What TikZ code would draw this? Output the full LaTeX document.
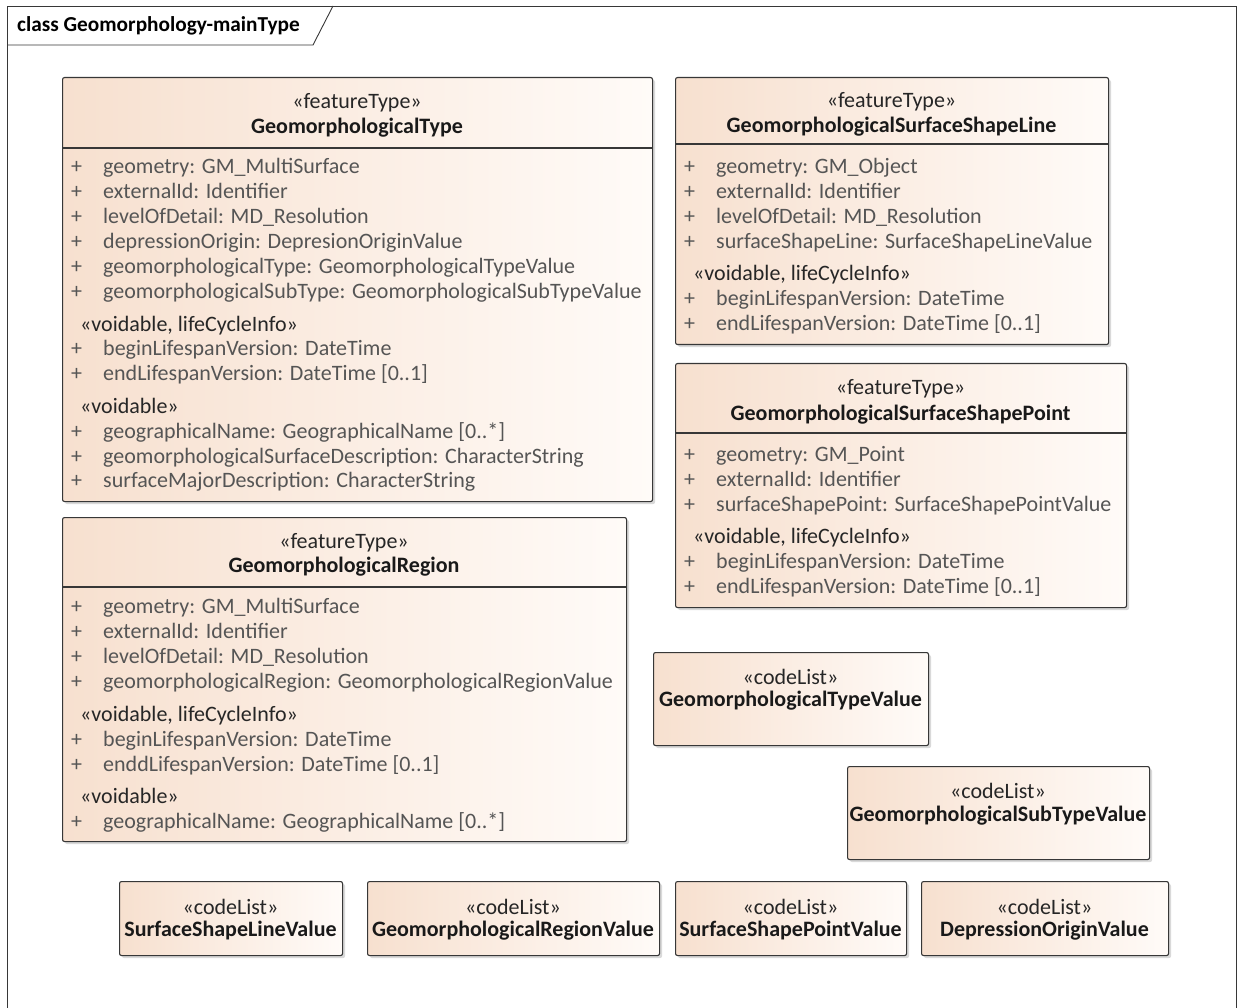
\documentclass[tikz,border=0pt]{standalone}
\usepackage{fontspec}
\setmainfont{Carlito}
\usetikzlibrary{shadows}
\definecolor{peach}{RGB}{247,224,207}
\definecolor{peachlight}{RGB}{255,251,248}
\definecolor{boxline}{RGB}{55,55,55}
\definecolor{attrtext}{RGB}{85,85,85}

\newcommand{\umlsize}{\fontsize{22}{25}\selectfont}

\tikzset{
  classbox/.style={draw=boxline, line width=1.1pt, rounded corners=2pt,
    left color=peach, right color=peachlight, anchor=north west, inner sep=0pt,
    drop shadow={shadow xshift=2.5pt, shadow yshift=-2.5pt, fill=black!25, opacity=.6}},
  divider/.style={draw=boxline, line width=1.1pt},
  stereo/.style={inner sep=0pt, text=black!85, yshift=-1pt},
  cname/.style={inner sep=0pt, font=\umlsize\bfseries, text=black!90, yshift=-1pt},
  section/.style={inner sep=0pt, anchor=mid west, text=black!85, yshift=-3.5pt},
  plussign/.style={inner sep=0pt, anchor=mid west, text=attrtext, yshift=-3.5pt},
  attr/.style={inner sep=0pt, anchor=mid west, text=attrtext, yshift=-3.5pt},
}

% one attribute row: name, x of the plus, y, text
\newcommand{\umlattr}[4]{%
  \node[plussign] (#1p) at (#2,#3) {+};
  \node[attr] (#1) at ({#2+32},#3) {#4};}

\begin{document}
\begin{tikzpicture}[x=1pt, y=-1pt, font=\umlsize]
    \useasboundingbox (0,0) rectangle (1240,1008);

    % frame
    \draw[boxline, line width=0.9pt] (7,1012) -- (7,6) -- (1236,6) -- (1236,1012);
    \draw[boxline, line width=0.9pt] (7,45) -- (313,45) -- (333,6);
    \node[anchor=mid west, inner sep=0pt, font=\fontsize{21.3}{24}\selectfont\bfseries] (title) at (17,29) {class Geomorphology-mainType};

    % GeomorphologicalType
    \node[classbox, minimum width=590pt, minimum height=424pt] (gtype) at (62,77) {};
    \draw[divider] (62,148) -- (652,148);
    \node[stereo] (gtype-st) at (357,102) {«featureType»};
    \node[cname] (gtype-nm) at (357,127) {GeomorphologicalType};
    \umlattr{gtype-a1}{71}{168}{geometry: GM\_MultiSurface}
    \umlattr{gtype-a2}{71}{193}{externalId: Identifier}
    \umlattr{gtype-a3}{71}{218}{levelOfDetail: MD\_Resolution}
    \umlattr{gtype-a4}{71}{243}{depressionOrigin: DepresionOriginValue}
    \umlattr{gtype-a5}{71}{268}{geomorphologicalType: GeomorphologicalTypeValue}
    \umlattr{gtype-a6}{71}{293}{geomorphologicalSubType: GeomorphologicalSubTypeValue}
    \node[section] (gtype-s1) at (80,326) {«voidable, lifeCycleInfo»};
    \umlattr{gtype-a7}{71}{350}{beginLifespanVersion: DateTime}
    \umlattr{gtype-a8}{71}{375}{endLifespanVersion: DateTime [0..1]}
    \node[section] (gtype-s2) at (80,408) {«voidable»};
    \umlattr{gtype-a9}{71}{433}{geographicalName: GeographicalName [0..*]}
    \umlattr{gtype-a10}{71}{458}{geomorphologicalSurfaceDescription: CharacterString}
    \umlattr{gtype-a11}{71}{482}{surfaceMajorDescription: CharacterString}

    % GeomorphologicalSurfaceShapeLine
    \node[classbox, minimum width=433pt, minimum height=267pt] (sline) at (675,77) {};
    \draw[divider] (675,144) -- (1108,144);
    \node[stereo] (sline-st) at (891.5,101) {«featureType»};
    \node[cname] (sline-nm) at (891.5,126) {GeomorphologicalSurfaceShapeLine};
    \umlattr{sline-a1}{684}{168}{geometry: GM\_Object}
    \umlattr{sline-a2}{684}{193}{externalId: Identifier}
    \umlattr{sline-a3}{684}{218}{levelOfDetail: MD\_Resolution}
    \umlattr{sline-a4}{684}{243}{surfaceShapeLine: SurfaceShapeLineValue}
    \node[section] (sline-s1) at (693,275) {«voidable, lifeCycleInfo»};
    \umlattr{sline-a5}{684}{300}{beginLifespanVersion: DateTime}
    \umlattr{sline-a6}{684}{325}{endLifespanVersion: DateTime [0..1]}

    % GeomorphologicalSurfaceShapePoint
    \node[classbox, minimum width=451pt, minimum height=244pt] (spoint) at (675,363) {};
    \draw[divider] (675,433) -- (1126,433);
    \node[stereo] (spoint-st) at (900.5,388) {«featureType»};
    \node[cname] (spoint-nm) at (900.5,414) {GeomorphologicalSurfaceShapePoint};
    \umlattr{spoint-a1}{684}{456}{geometry: GM\_Point}
    \umlattr{spoint-a2}{684}{481}{externalId: Identifier}
    \umlattr{spoint-a3}{684}{506}{surfaceShapePoint: SurfaceShapePointValue}
    \node[section] (spoint-s1) at (693,538) {«voidable, lifeCycleInfo»};
    \umlattr{spoint-a4}{684}{563}{beginLifespanVersion: DateTime}
    \umlattr{spoint-a5}{684}{588}{endLifespanVersion: DateTime [0..1]}

    % GeomorphologicalRegion
    \node[classbox, minimum width=564pt, minimum height=324pt] (region) at (62,517) {};
    \draw[divider] (62,587) -- (626,587);
    \node[stereo] (region-st) at (344,542) {«featureType»};
    \node[cname] (region-nm) at (344,566) {GeomorphologicalRegion};
    \umlattr{region-a1}{71}{608}{geometry: GM\_MultiSurface}
    \umlattr{region-a2}{71}{633}{externalId: Identifier}
    \umlattr{region-a3}{71}{658}{levelOfDetail: MD\_Resolution}
    \umlattr{region-a4}{71}{683}{geomorphologicalRegion: GeomorphologicalRegionValue}
    \node[section] (region-s1) at (80,716) {«voidable, lifeCycleInfo»};
    \umlattr{region-a5}{71}{741}{beginLifespanVersion: DateTime}
    \umlattr{region-a6}{71}{766}{enddLifespanVersion: DateTime [0..1]}
    \node[section] (region-s2) at (80,798) {«voidable»};
    \umlattr{region-a7}{71}{823}{geographicalName: GeographicalName [0..*]}

    % code lists
    \node[classbox, minimum width=275pt, minimum height=93pt] (typeval) at (653,652) {};
    \node[stereo] (typeval-st) at (790.5,676) {«codeList»};
    \node[cname] (typeval-nm) at (790.5,700) {GeomorphologicalTypeValue};

    \node[classbox, minimum width=302pt, minimum height=93pt] (subval) at (847,766) {};
    \node[stereo] (subval-st) at (998,790) {«codeList»};
    \node[cname] (subval-nm) at (998,815) {GeomorphologicalSubTypeValue};

    \node[classbox, minimum width=223pt, minimum height=74pt] (slineval) at (119,881) {};
    \node[stereo] (slineval-st) at (230.5,906) {«codeList»};
    \node[cname] (slineval-nm) at (230.5,930) {SurfaceShapeLineValue};

    \node[classbox, minimum width=292pt, minimum height=74pt] (regionval) at (367,881) {};
    \node[stereo] (regionval-st) at (513,906) {«codeList»};
    \node[cname] (regionval-nm) at (513,930) {GeomorphologicalRegionValue};

    \node[classbox, minimum width=231pt, minimum height=74pt] (spointval) at (675,881) {};
    \node[stereo] (spointval-st) at (790.5,906) {«codeList»};
    \node[cname] (spointval-nm) at (790.5,930) {SurfaceShapePointValue};

    \node[classbox, minimum width=247pt, minimum height=74pt] (deprval) at (921,881) {};
    \node[stereo] (deprval-st) at (1044.5,906) {«codeList»};
    \node[cname] (deprval-nm) at (1044.5,930) {DepressionOriginValue};

\end{tikzpicture}
\end{document}
